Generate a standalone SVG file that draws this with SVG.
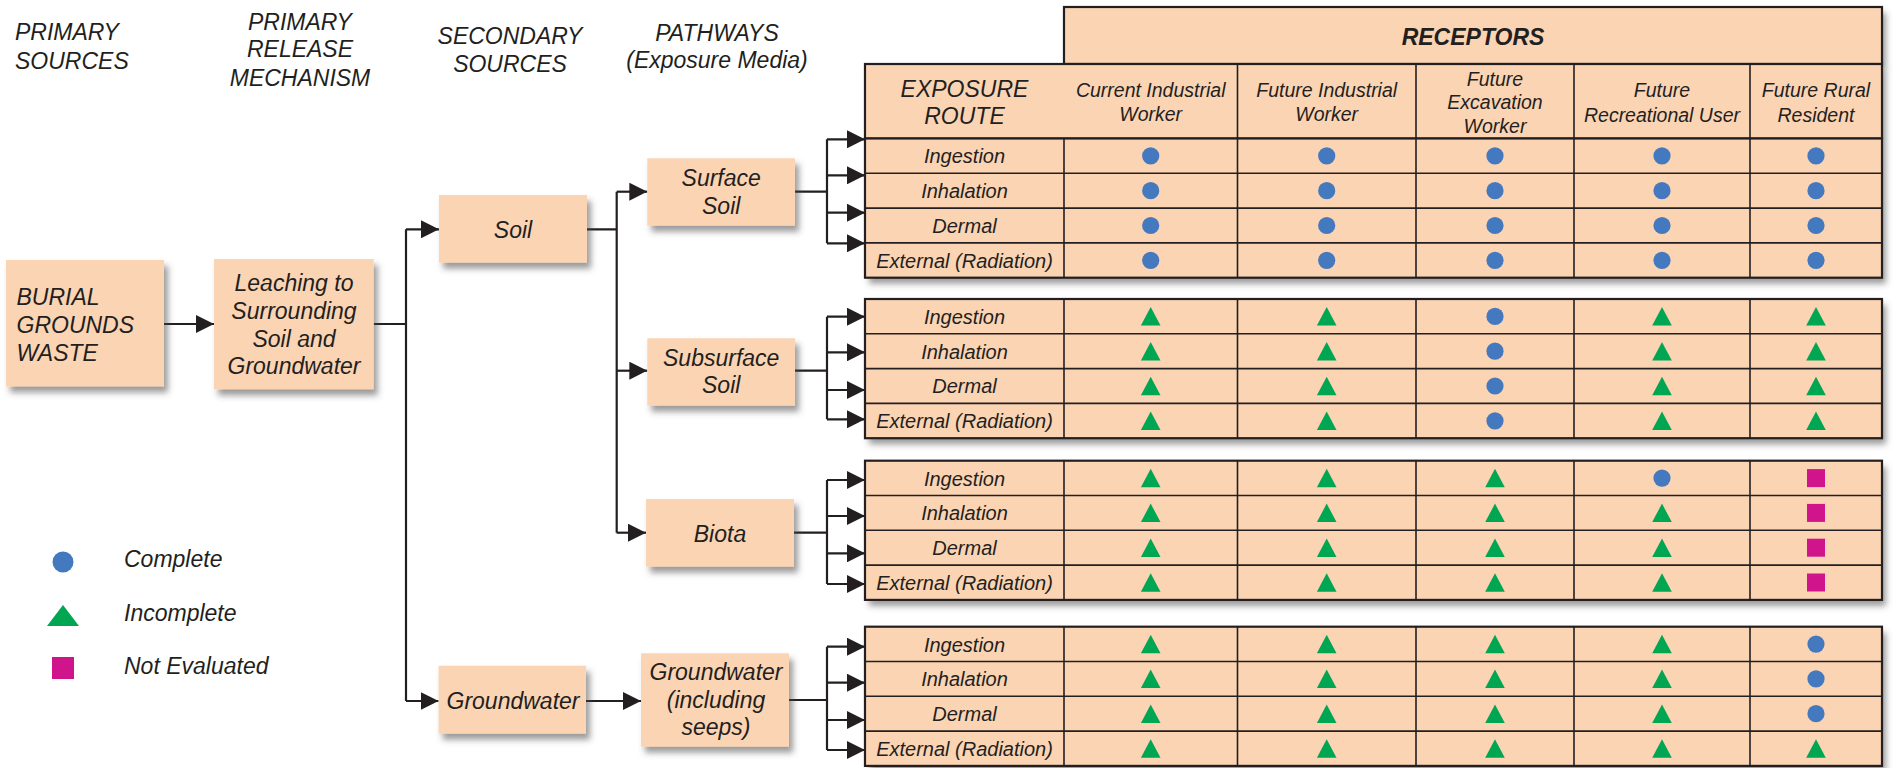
<svg xmlns="http://www.w3.org/2000/svg" width="1893" height="768" viewBox="0 0 1893 768">
<style>
  text { font-family: "Liberation Sans", Arial, sans-serif; font-style: italic; fill: #231f20; }
  .h { font-size: 23px; }
  .hc { font-size: 23px; text-anchor: middle; }
  .bx { font-size: 23px; text-anchor: middle; }
  .ch { font-size: 19.5px; text-anchor: middle; }
  .rl { font-size: 20px; text-anchor: middle; }
  .rec { font-size: 23px; font-weight: bold; text-anchor: middle; }
  .node { fill: #fbd4b4; filter: url(#sh); }
  .tbl { fill: #fbd4b4; stroke: #231f20; stroke-width: 2.2; }
  .tshadow { fill: #fbd4b4; filter: url(#sh); }
  .grid { stroke: #231f20; stroke-width: 1.6; fill: none; }
  .con { stroke: #231f20; stroke-width: 2.2; fill: none; }
  .arr { stroke: #231f20; stroke-width: 2.2; fill: none; marker-end: url(#ah); }
</style>
<defs>
  <filter id="sh" x="-10%" y="-10%" width="130%" height="140%">
    <feDropShadow dx="4" dy="6" stdDeviation="3" flood-color="#4a4a4a" flood-opacity="0.55"/>
  </filter>
  <marker id="ah" markerUnits="userSpaceOnUse" markerWidth="18" markerHeight="18" viewBox="0 0 16 16" refX="16" refY="8" orient="auto">
    <path d="M0,0 L16,8 L0,16 Z" fill="#231f20"/>
  </marker>
  <circle id="sc" r="8.6" fill="#4479bf"/>
  <path id="st" d="M0,-9.3 L9.8,9.2 L-9.8,9.2 Z" fill="#00a651"/>
  <rect id="ss" x="-9" y="-9" width="18" height="18" fill="#d0158c"/>
</defs>

<rect width="1893" height="768" fill="#ffffff"/>

<!-- column headings -->
<g id="headings">
  <text class="h" x="15" y="40">PRIMARY</text>
  <text class="h" x="15" y="68.5">SOURCES</text>
  <text class="hc" x="300" y="29.5">PRIMARY</text>
  <text class="hc" x="300" y="57">RELEASE</text>
  <text class="hc" x="300" y="85.5">MECHANISM</text>
  <text class="hc" x="510" y="44">SECONDARY</text>
  <text class="hc" x="510" y="72">SOURCES</text>
  <text class="hc" x="717" y="40.5">PATHWAYS</text>
  <text class="hc" x="717" y="68">(Exposure Media)</text>
</g>

<!-- connectors -->
<g id="connectors">
  <path class="arr" d="M164,324 H214"/>
  <path class="con" d="M373.7,324 H406 M406,229.3 V701"/>
  <path class="arr" d="M406,229.3 H439"/>
  <path class="arr" d="M406,701 H438.6"/>
  <path class="con" d="M587,229.3 H616.7 M616.7,191.7 V532.7"/>
  <path class="arr" d="M616.7,191.7 H647.3"/>
  <path class="arr" d="M616.7,370.7 H647.3"/>
  <path class="arr" d="M616.7,532.7 H646"/>
  <path class="arr" d="M586,701 H641"/>
  <!-- surface soil fan -->
  <path class="con" d="M795,191.7 H827 M827,139.3 V243.3"/>
  <path class="arr" d="M827,139.3 H865"/>
  <path class="arr" d="M827,175.3 H865"/>
  <path class="arr" d="M827,212.7 H865"/>
  <path class="arr" d="M827,243.3 H865"/>
  <!-- subsurface soil fan -->
  <path class="con" d="M795,370.7 H827 M827,316.7 V419.3"/>
  <path class="arr" d="M827,316.7 H865"/>
  <path class="arr" d="M827,352.3 H865"/>
  <path class="arr" d="M827,390 H865"/>
  <path class="arr" d="M827,419.3 H865"/>
  <!-- biota fan -->
  <path class="con" d="M794,532.7 H827 M827,480 V584"/>
  <path class="arr" d="M827,480 H865"/>
  <path class="arr" d="M827,516 H865"/>
  <path class="arr" d="M827,553.3 H865"/>
  <path class="arr" d="M827,584 H865"/>
  <!-- groundwater seeps fan -->
  <path class="con" d="M789,700 H827 M827,646.7 V750"/>
  <path class="arr" d="M827,646.7 H865"/>
  <path class="arr" d="M827,682.7 H865"/>
  <path class="arr" d="M827,720 H865"/>
  <path class="arr" d="M827,750 H865"/>
</g>

<!-- nodes -->
<g id="burial">
  <rect class="node" x="6" y="260" width="158" height="126.5"/>
  <text class="h" x="16.5" y="305">BURIAL</text>
  <text class="h" x="16.5" y="333">GROUNDS</text>
  <text class="h" x="16.5" y="361">WASTE</text>
</g>
<g id="leaching">
  <rect class="node" x="214" y="259" width="159.7" height="130.3"/>
  <text class="bx" x="294" y="290.7">Leaching to</text>
  <text class="bx" x="294" y="318.5">Surrounding</text>
  <text class="bx" x="294" y="346.5">Soil and</text>
  <text class="bx" x="294" y="374">Groundwater</text>
</g>
<g id="soil">
  <rect class="node" x="439" y="195" width="148" height="67.7"/>
  <text class="bx" x="513" y="238.3">Soil</text>
</g>
<g id="groundwater">
  <rect class="node" x="438.6" y="665.7" width="147.4" height="68"/>
  <text class="bx" x="513" y="709">Groundwater</text>
</g>
<g id="surface-soil">
  <rect class="node" x="647.3" y="158.3" width="147.7" height="67.4"/>
  <text class="bx" x="721.2" y="186">Surface</text>
  <text class="bx" x="721.2" y="214.3">Soil</text>
</g>
<g id="subsurface-soil">
  <rect class="node" x="647.3" y="338.3" width="147.7" height="67.4"/>
  <text class="bx" x="721.2" y="366">Subsurface</text>
  <text class="bx" x="721.2" y="393.3">Soil</text>
</g>
<g id="biota">
  <rect class="node" x="646" y="499" width="148" height="67.7"/>
  <text class="bx" x="720" y="541.7">Biota</text>
</g>
<g id="groundwater-seeps">
  <rect class="node" x="641" y="653.3" width="148" height="93.4"/>
  <text class="bx" x="716" y="680">Groundwater</text>
  <text class="bx" x="716" y="708.3">(including</text>
  <text class="bx" x="716" y="735">seeps)</text>
</g>

<!-- table header + section 1 (surface soil) -->
<g id="table-header">
  <rect class="tshadow" x="865" y="64" width="1017" height="213.7"/>
  <rect class="tshadow" x="1064" y="7" width="818" height="57"/>
  <rect class="tbl" x="1064" y="7" width="818" height="57"/>
  <rect class="tbl" x="865" y="64" width="1017" height="74.5"/>
  <path class="grid" d="M1237.5,64 V138.5 M1416,64 V138.5 M1574,64 V138.5 M1750,64 V138.5"/>
  <text class="rec" x="1473" y="45">RECEPTORS</text>
  <text class="hc" x="964.5" y="96.5">EXPOSURE</text>
  <text class="hc" x="964.5" y="123.5">ROUTE</text>
  <text class="ch" x="1150.7" y="97.3">Current Industrial</text>
  <text class="ch" x="1150.7" y="121">Worker</text>
  <text class="ch" x="1326.7" y="97.3">Future Industrial</text>
  <text class="ch" x="1326.7" y="121">Worker</text>
  <text class="ch" x="1495" y="85.7">Future</text>
  <text class="ch" x="1495" y="109.3">Excavation</text>
  <text class="ch" x="1495" y="132.7">Worker</text>
  <text class="ch" x="1662" y="96.7">Future</text>
  <text class="ch" x="1662" y="121.5">Recreational User</text>
  <text class="ch" x="1816" y="96.7">Future Rural</text>
  <text class="ch" x="1816" y="121.5">Resident</text>
</g>

<g id="section-surface-soil">
  <rect class="tbl" x="865" y="138.5" width="1017" height="139.2"/>
  <path class="grid" d="M865,173.3 H1882 M865,208.1 H1882 M865,242.9 H1882 M1064,138.5 V277.7 M1237.5,138.5 V277.7 M1416,138.5 V277.7 M1574,138.5 V277.7 M1750,138.5 V277.7"/>
  <text class="rl" x="964.5" y="163.3">Ingestion</text>
  <text class="rl" x="964.5" y="198.1">Inhalation</text>
  <text class="rl" x="964.5" y="232.9">Dermal</text>
  <text class="rl" x="964.5" y="267.7">External  (Radiation)</text>
  <g transform="translate(0,155.9)"><use href="#sc" x="1150.7"/><use href="#sc" x="1326.7"/><use href="#sc" x="1495"/><use href="#sc" x="1662"/><use href="#sc" x="1816"/></g>
  <g transform="translate(0,190.7)"><use href="#sc" x="1150.7"/><use href="#sc" x="1326.7"/><use href="#sc" x="1495"/><use href="#sc" x="1662"/><use href="#sc" x="1816"/></g>
  <g transform="translate(0,225.5)"><use href="#sc" x="1150.7"/><use href="#sc" x="1326.7"/><use href="#sc" x="1495"/><use href="#sc" x="1662"/><use href="#sc" x="1816"/></g>
  <g transform="translate(0,260.3)"><use href="#sc" x="1150.7"/><use href="#sc" x="1326.7"/><use href="#sc" x="1495"/><use href="#sc" x="1662"/><use href="#sc" x="1816"/></g>
</g>

<g id="section-subsurface-soil">
  <rect class="tshadow" x="865" y="299" width="1017" height="139.2"/>
  <rect class="tbl" x="865" y="299" width="1017" height="139.2"/>
  <path class="grid" d="M865,333.8 H1882 M865,368.6 H1882 M865,403.4 H1882 M1064,299 V438.2 M1237.5,299 V438.2 M1416,299 V438.2 M1574,299 V438.2 M1750,299 V438.2"/>
  <text class="rl" x="964.5" y="323.8">Ingestion</text>
  <text class="rl" x="964.5" y="358.6">Inhalation</text>
  <text class="rl" x="964.5" y="393.4">Dermal</text>
  <text class="rl" x="964.5" y="428.2">External  (Radiation)</text>
  <g transform="translate(0,316.4)"><use href="#st" x="1150.7"/><use href="#st" x="1326.7"/><use href="#sc" x="1495"/><use href="#st" x="1662"/><use href="#st" x="1816"/></g>
  <g transform="translate(0,351.2)"><use href="#st" x="1150.7"/><use href="#st" x="1326.7"/><use href="#sc" x="1495"/><use href="#st" x="1662"/><use href="#st" x="1816"/></g>
  <g transform="translate(0,386)"><use href="#st" x="1150.7"/><use href="#st" x="1326.7"/><use href="#sc" x="1495"/><use href="#st" x="1662"/><use href="#st" x="1816"/></g>
  <g transform="translate(0,420.8)"><use href="#st" x="1150.7"/><use href="#st" x="1326.7"/><use href="#sc" x="1495"/><use href="#st" x="1662"/><use href="#st" x="1816"/></g>
</g>

<g id="section-biota">
  <rect class="tshadow" x="865" y="460.7" width="1017" height="139.2"/>
  <rect class="tbl" x="865" y="460.7" width="1017" height="139.2"/>
  <path class="grid" d="M865,495.5 H1882 M865,530.3 H1882 M865,565.1 H1882 M1064,460.7 V599.9 M1237.5,460.7 V599.9 M1416,460.7 V599.9 M1574,460.7 V599.9 M1750,460.7 V599.9"/>
  <text class="rl" x="964.5" y="485.5">Ingestion</text>
  <text class="rl" x="964.5" y="520.3">Inhalation</text>
  <text class="rl" x="964.5" y="555.1">Dermal</text>
  <text class="rl" x="964.5" y="589.9">External  (Radiation)</text>
  <g transform="translate(0,478.1)"><use href="#st" x="1150.7"/><use href="#st" x="1326.7"/><use href="#st" x="1495"/><use href="#sc" x="1662"/><use href="#ss" x="1816"/></g>
  <g transform="translate(0,512.9)"><use href="#st" x="1150.7"/><use href="#st" x="1326.7"/><use href="#st" x="1495"/><use href="#st" x="1662"/><use href="#ss" x="1816"/></g>
  <g transform="translate(0,547.7)"><use href="#st" x="1150.7"/><use href="#st" x="1326.7"/><use href="#st" x="1495"/><use href="#st" x="1662"/><use href="#ss" x="1816"/></g>
  <g transform="translate(0,582.5)"><use href="#st" x="1150.7"/><use href="#st" x="1326.7"/><use href="#st" x="1495"/><use href="#st" x="1662"/><use href="#ss" x="1816"/></g>
</g>

<g id="section-groundwater">
  <rect class="tshadow" x="865" y="626.7" width="1017" height="139.2"/>
  <rect class="tbl" x="865" y="626.7" width="1017" height="139.2"/>
  <path class="grid" d="M865,661.5 H1882 M865,696.3 H1882 M865,731.1 H1882 M1064,626.7 V765.9 M1237.5,626.7 V765.9 M1416,626.7 V765.9 M1574,626.7 V765.9 M1750,626.7 V765.9"/>
  <text class="rl" x="964.5" y="651.5">Ingestion</text>
  <text class="rl" x="964.5" y="686.3">Inhalation</text>
  <text class="rl" x="964.5" y="721.1">Dermal</text>
  <text class="rl" x="964.5" y="755.9">External  (Radiation)</text>
  <g transform="translate(0,644.1)"><use href="#st" x="1150.7"/><use href="#st" x="1326.7"/><use href="#st" x="1495"/><use href="#st" x="1662"/><use href="#sc" x="1816"/></g>
  <g transform="translate(0,678.9)"><use href="#st" x="1150.7"/><use href="#st" x="1326.7"/><use href="#st" x="1495"/><use href="#st" x="1662"/><use href="#sc" x="1816"/></g>
  <g transform="translate(0,713.7)"><use href="#st" x="1150.7"/><use href="#st" x="1326.7"/><use href="#st" x="1495"/><use href="#st" x="1662"/><use href="#sc" x="1816"/></g>
  <g transform="translate(0,748.5)"><use href="#st" x="1150.7"/><use href="#st" x="1326.7"/><use href="#st" x="1495"/><use href="#st" x="1662"/><use href="#st" x="1816"/></g>
</g>

<!-- legend -->
<g id="legend">
  <circle cx="63" cy="562" r="10.5" fill="#4479bf"/>
  <path d="M63,605 L79,626 L47,626 Z" fill="#00a651"/>
  <rect x="52" y="657" width="22" height="22" fill="#d0158c"/>
  <text class="h" x="124" y="566.5">Complete</text>
  <text class="h" x="124" y="620.5">Incomplete</text>
  <text class="h" x="124" y="674">Not Evaluated</text>
</g>
</svg>
